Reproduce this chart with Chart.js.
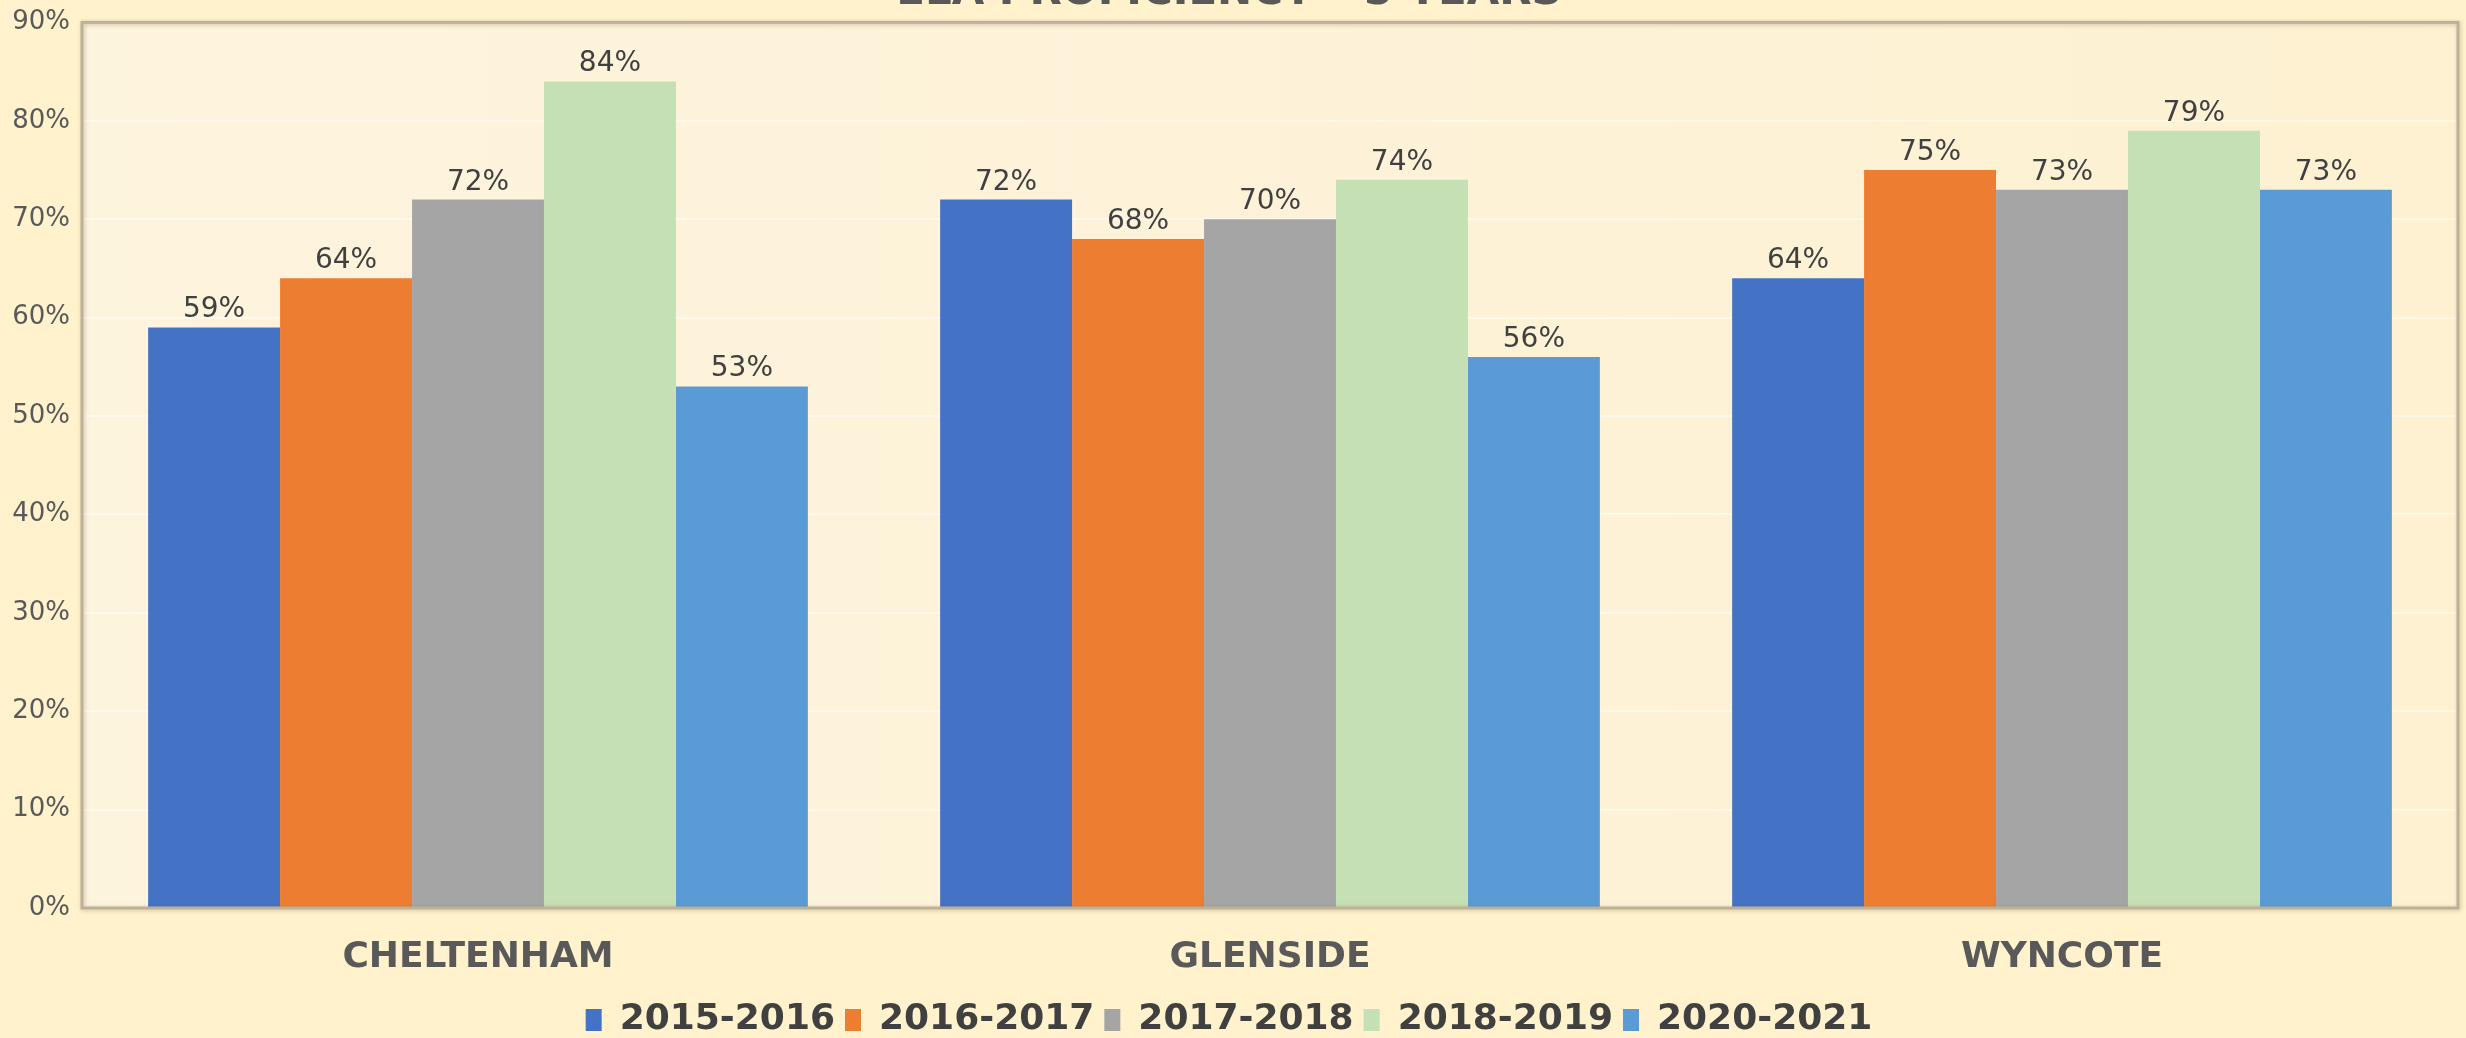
<!DOCTYPE html>
<html>
<head>
<meta charset="utf-8">
<title>ELA PROFICIENCY</title>
<script src="https://cdn.jsdelivr.net/npm/chart.js@4.4.1/dist/chart.umd.min.js"></script>
<style>
html, body { margin: 0; padding: 0; background: #fff2cc; overflow: hidden; width: 2466px; height: 1038px; }
#contenedor { position: absolute; left: 0; top: -32px; width: 2466px; height: 1080px; }
</style>
</head>
<body>
<div id="contenedor"><canvas id="Grafica1"></canvas></div>
<script>
// datos
var escuelas = ['CHELTENHAM', 'GLENSIDE', 'WYNCOTE'];
var periodos = ['2015-2016', '2016-2017', '2017-2018', '2018-2019', '2020-2021'];
var v20152016 = [59, 72, 64];
var v20162017 = [64, 68, 75];
var v20172018 = [72, 70, 73];
var v20182019 = [84, 74, 79];
var v20202021 = [53, 56, 73];
var ticksY = [0, 10, 20, 30, 40, 50, 60, 70, 80, 90];
var titulo = 'ELA PROFICIENCY \u2013 5 YEARS';

var colores = ['#4472c4', '#ed7d31', '#a5a5a5', '#c5e0b4', '#5b9bd5'];
var fuente = "'DejaVu Sans', 'Liberation Sans', sans-serif";

function index() {
    this.ini = function () {
        this.dibujar();
    }

    this.dibujar = function () {
        var series = [v20152016, v20162017, v20172018, v20182019, v20202021];
        var datasets = [];
        for (let i in series) {
            datasets.push({
                label: periodos[i],
                data: series[i],
                backgroundColor: colores[i],
                borderWidth: 0,
                categoryPercentage: 0.833,
                barPercentage: 1.0
            });
        }

        // fondo del area de la grafica y marco
        var fondo = {
            id: 'fondo',
            beforeDraw: function (chart) {
                var ctx = chart.ctx, a = chart.chartArea;
                ctx.save();
                ctx.fillStyle = '#fff2cc';
                ctx.fillRect(0, 0, chart.width, chart.height);
                var g = ctx.createLinearGradient(a.left, 0, a.right, 0);
                g.addColorStop(0, '#fdf4de');
                g.addColorStop(1, '#fdf1d2');
                ctx.fillStyle = g;
                ctx.fillRect(a.left, a.top, a.right - a.left, a.bottom - a.top);
                ctx.restore();
            },
            afterDraw: function (chart) {
                var ctx = chart.ctx, a = chart.chartArea;
                ctx.save();
                ctx.shadowColor = 'rgba(120,100,60,0.35)';
                ctx.shadowBlur = 4;
                ctx.shadowOffsetX = 1;
                ctx.shadowOffsetY = 1;
                ctx.strokeStyle = '#bcb29a';
                ctx.lineWidth = 3;
                ctx.strokeRect(a.left, a.top, a.right - a.left, a.bottom - a.top);
                ctx.restore();
            }
        };

        // etiquetas de porcentaje sobre cada barra
        var etiquetas = {
            id: 'etiquetas',
            afterDatasetsDraw: function (chart) {
                var ctx = chart.ctx;
                ctx.save();
                ctx.font = "28px " + fuente;
                ctx.fillStyle = '#404040';
                ctx.textAlign = 'center';
                ctx.textBaseline = 'alphabetic';
                chart.data.datasets.forEach(function (ds, i) {
                    var meta = chart.getDatasetMeta(i);
                    meta.data.forEach(function (barra, j) {
                        ctx.fillText(ds.data[j] + '%', barra.x, barra.y - 10);
                    });
                });
                ctx.restore();
            }
        };

        var ctx = document.getElementById('Grafica1').getContext('2d');
        var myChart = new Chart(ctx, {
            type: 'bar',
            data: {
                labels: escuelas,
                datasets: datasets
            },
            plugins: [fondo, etiquetas],
            options: {
                responsive: true,
                maintainAspectRatio: false,
                animation: false,
                layout: { padding: { left: 0, right: 8, top: 0, bottom: 0 } },
                plugins: {
                    title: {
                        display: true,
                        text: titulo,
                        color: '#595959',
                        font: { family: fuente, size: 42, weight: 'bold' },
                        padding: { top: 0, bottom: 4 }
                    },
                    legend: {
                        position: 'bottom',
                        labels: {
                            color: '#404040',
                            font: { family: fuente, size: 36, weight: 'bold' },
                            boxWidth: 16,
                            boxHeight: 22,
                            padding: 10
                        }
                    },
                    tooltip: { enabled: false }
                },
                scales: {
                    x: {
                        grid: { display: false, drawTicks: false },
                        border: { display: false },
                        ticks: {
                            color: '#595959',
                            padding: 28,
                            font: { family: fuente, size: 36, weight: 'bold' }
                        },
                        afterFit: function (s) { s.height = 84; }
                    },
                    y: {
                        min: 0,
                        max: 90,
                        afterBuildTicks: function (s) {
                            s.ticks = ticksY.map(function (v) { return { value: v }; });
                        },
                        grid: { color: 'rgba(255,255,255,0.45)', lineWidth: 2, drawTicks: false },
                        border: { display: false },
                        ticks: {
                            color: '#595959',
                            padding: 12,
                            font: { family: fuente, size: 26 },
                            callback: function (v) { return v + '%'; }
                        },
                        afterFit: function (s) { s.width = 82; }
                    }
                }
            }
        });
    }
}

var oIndex = new index();
oIndex.ini();
</script>
</body>
</html>
